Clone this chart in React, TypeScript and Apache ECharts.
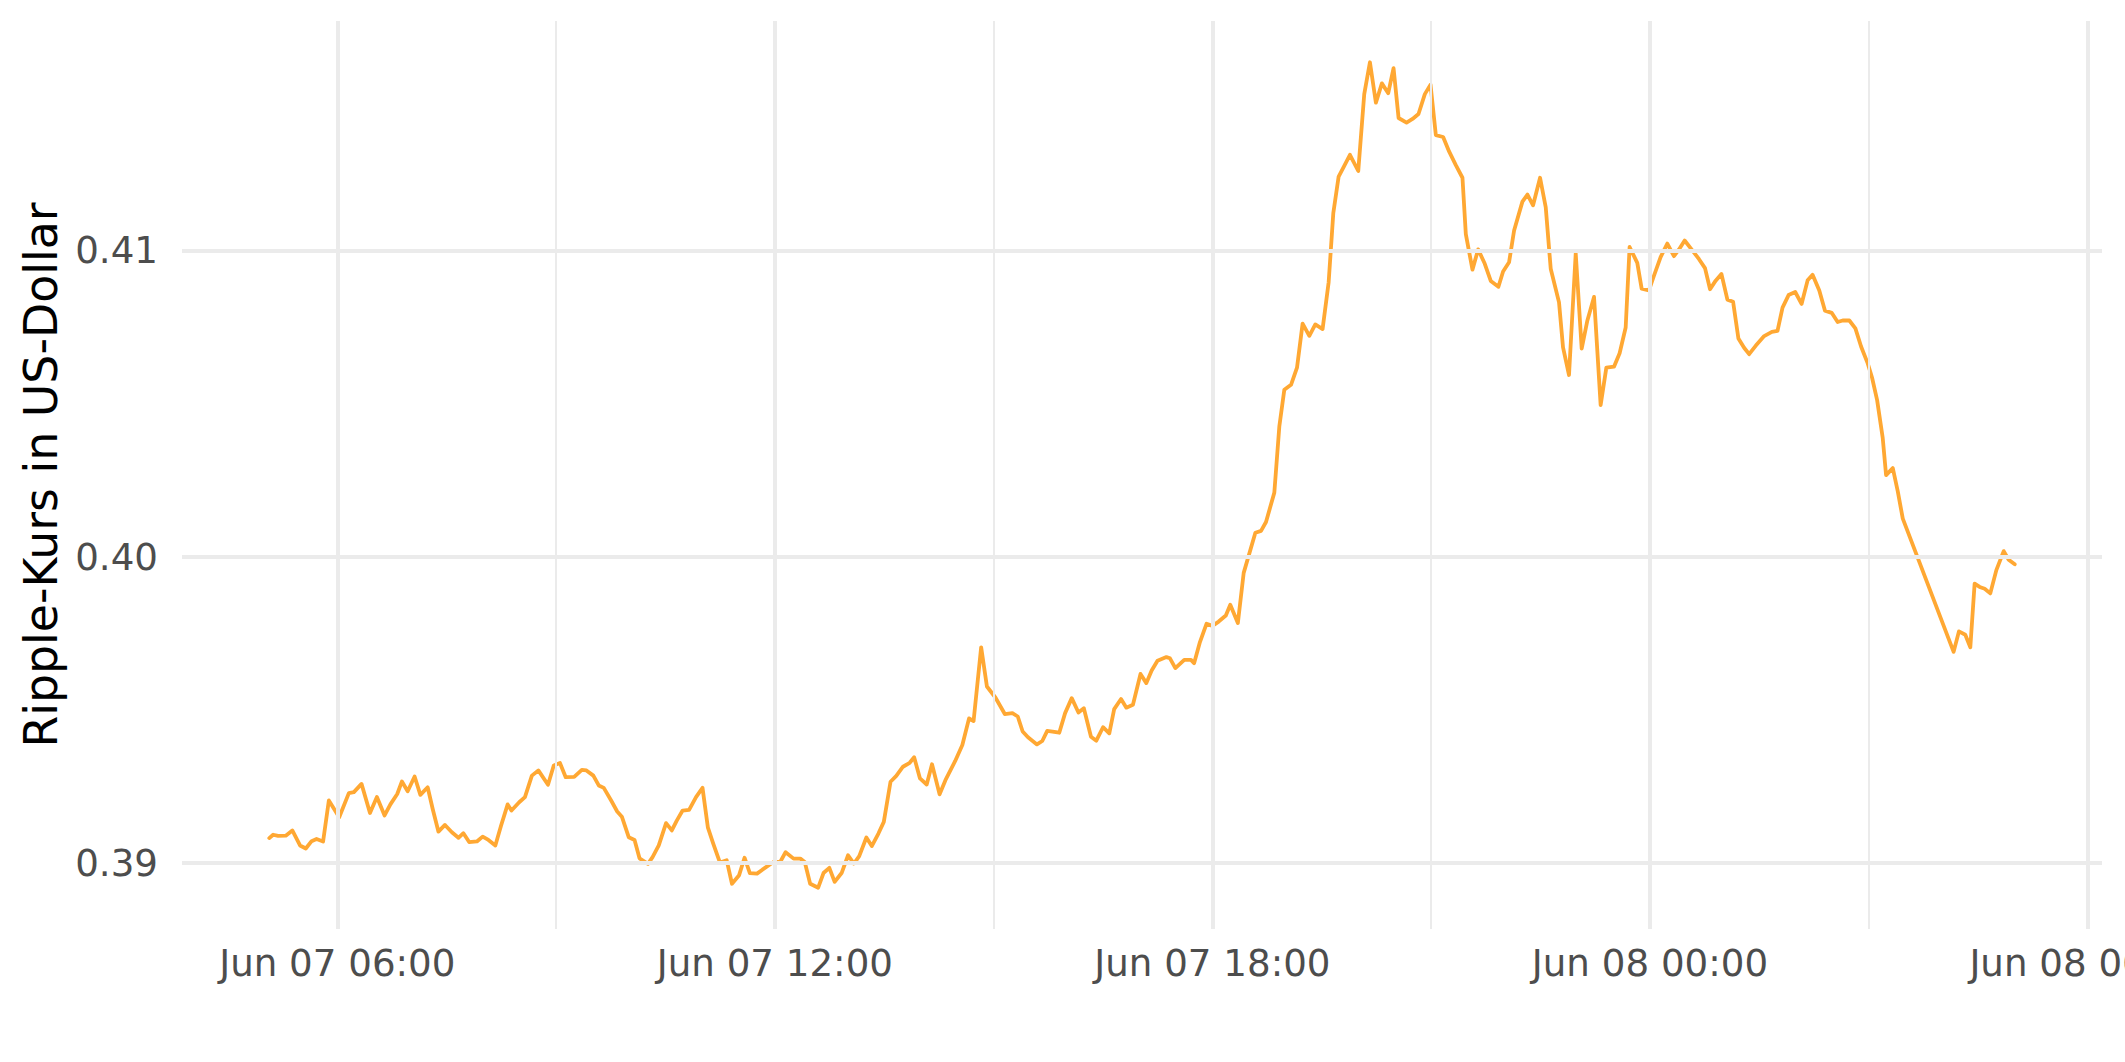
import React, { useEffect, useRef } from "react";
import * as echarts from "echarts";

// Hours since Jun 07 00:00
const HOURS: number[] = [
  5.067, 5.12, 5.188, 5.293, 5.383, 5.489, 5.568, 5.647, 5.715, 5.805, 5.884, 6.026, 6.158, 6.227, 6.332, 6.448,
  6.543, 6.648, 6.728, 6.822, 6.886, 6.965, 7.06, 7.139, 7.239, 7.308, 7.387, 7.476, 7.571, 7.661, 7.729, 7.808,
  7.914, 7.993, 8.072, 8.167, 8.246, 8.336, 8.388, 8.494, 8.573, 8.668, 8.757, 8.889, 8.968, 9.053, 9.132, 9.248,
  9.353, 9.416, 9.511, 9.585, 9.654, 9.759, 9.838, 9.902, 9.996, 10.076, 10.144, 10.26, 10.323, 10.408, 10.508,
  10.587, 10.655, 10.735, 10.824, 10.919, 11.008,
  11.082, 11.155, 11.247, 11.339, 11.412, 11.51, 11.584, 11.657, 11.755, 11.829, 11.982, 12.073, 12.147, 12.257,
  12.349, 12.41, 12.484, 12.594, 12.667, 12.747, 12.82, 12.918, 13.004, 13.084, 13.157, 13.255, 13.329, 13.42,
  13.494, 13.586, 13.665, 13.757, 13.849, 13.91, 13.99, 14.082, 14.155, 14.259, 14.339, 14.473, 14.571, 14.663,
  14.725, 14.829, 14.908, 15.024, 15.153, 15.257, 15.331, 15.398, 15.471, 15.594, 15.667, 15.735, 15.808, 15.9,
  15.98, 16.071, 16.163, 16.237, 16.335, 16.408, 16.5, 16.586, 16.653, 16.747, 16.82, 16.91, 17.014, 17.094,
  17.167, 17.247, 17.369, 17.418, 17.492, 17.614, 17.706, 17.749, 17.829, 17.92, 18.0, 18.086, 18.184, 18.245,
  18.349, 18.429,
  18.589, 18.667, 18.735, 18.849, 18.918, 18.986, 19.078, 19.16, 19.237, 19.329, 19.411, 19.511, 19.594, 19.658,
  19.731, 19.808, 19.886, 20.0, 20.082, 20.16, 20.242, 20.324, 20.411, 20.484, 20.553, 20.662, 20.744, 20.826,
  20.913, 20.991, 21.064, 21.164, 21.247, 21.338, 21.429, 21.475, 21.566, 21.644, 21.735, 21.817, 21.922, 21.986,
  22.068, 22.137, 22.251, 22.32, 22.397, 22.493, 22.571, 22.639, 22.753, 22.808, 22.89, 22.982, 23.064, 23.142,
  23.233, 23.324, 23.402, 23.507, 23.584, 23.667, 23.721, 23.826, 23.886,
  23.986, 24.055, 24.146, 24.238, 24.329, 24.398, 24.476, 24.581, 24.673, 24.755, 24.824, 24.901, 24.98, 25.062,
  25.14, 25.213, 25.291, 25.36, 25.452, 25.566, 25.672, 25.749, 25.818, 25.901, 25.992, 26.079, 26.162, 26.23,
  26.322, 26.4, 26.492, 26.574, 26.643, 26.734, 26.817, 26.895, 26.986, 27.046, 27.115, 27.192, 27.238, 27.33,
  27.399, 27.467, 28.164, 28.237, 28.324, 28.393, 28.452, 28.521, 28.59, 28.667, 28.75, 28.851, 28.919, 29.002,
];

// Ripple price in US dollars
const PRICES: number[] = [
  0.39081, 0.39092, 0.39088, 0.39089, 0.39106, 0.39057, 0.39047, 0.39071, 0.39078, 0.3907, 0.39204, 0.39149, 0.39228,
  0.39231, 0.39258, 0.39163, 0.39215, 0.39155, 0.39191, 0.39225, 0.39266, 0.39234, 0.39282, 0.39222, 0.39247, 0.39176,
  0.39102, 0.39124, 0.391, 0.39082, 0.39097, 0.39068, 0.3907, 0.39086, 0.39075, 0.39057, 0.39122, 0.39191, 0.39171,
  0.39198, 0.39215, 0.39285, 0.39302, 0.39255, 0.39318, 0.39326, 0.3928, 0.39281, 0.39304, 0.39302, 0.39285, 0.39253,
  0.39245, 0.39202, 0.39168, 0.39151, 0.39084, 0.39075, 0.39015, 0.38997, 0.39019, 0.39057, 0.3913, 0.39106, 0.39138,
  0.39171, 0.39173, 0.39215, 0.39245,
  0.39115, 0.39063, 0.39001, 0.39009, 0.38932, 0.3896, 0.39017, 0.38967, 0.38965, 0.38978, 0.39003, 0.39003, 0.39035,
  0.39014, 0.39014, 0.39003, 0.38932, 0.38919, 0.38967, 0.38984, 0.38938, 0.38968, 0.39025, 0.38998, 0.39022, 0.39083,
  0.39055, 0.39096, 0.39134, 0.39265, 0.39284, 0.39314, 0.39327, 0.39345, 0.39276, 0.39256, 0.39322, 0.39224, 0.3927,
  0.39333, 0.39385, 0.39472, 0.39463, 0.39704, 0.39576, 0.3954, 0.39486, 0.39489, 0.39478, 0.39429, 0.3941, 0.39387,
  0.39398, 0.39431, 0.39429, 0.39425, 0.39489, 0.39538, 0.39491, 0.39505, 0.39412, 0.39399, 0.39443, 0.39423, 0.39502,
  0.39535, 0.39507, 0.39516, 0.39617, 0.39587, 0.39628, 0.3966, 0.39672, 0.39668, 0.39636, 0.39663, 0.39663, 0.39652,
  0.39721, 0.39781, 0.39774, 0.39788, 0.39808, 0.39843, 0.39783, 0.39947,
  0.40078, 0.40084, 0.40113, 0.40209, 0.40426, 0.40545, 0.40561, 0.40617, 0.40761, 0.40721, 0.40758, 0.40743, 0.40896,
  0.41122, 0.41241, 0.41276, 0.41312, 0.41259, 0.4151, 0.41614, 0.41482, 0.41545, 0.41513, 0.41595, 0.41432, 0.41417,
  0.41429, 0.41445, 0.4151, 0.41541, 0.41376, 0.4137, 0.41322, 0.41278, 0.41237, 0.41053, 0.40937, 0.41003, 0.40956,
  0.409, 0.40881, 0.40931, 0.40961, 0.41065, 0.41159, 0.41182, 0.41147, 0.41237, 0.4114, 0.4094, 0.4083, 0.40683,
  0.40593, 0.4099, 0.40679, 0.40771, 0.40848, 0.40495, 0.40617, 0.4062, 0.40664, 0.40748, 0.41011, 0.40959, 0.40875,
  0.40869, 0.40917, 0.40978, 0.41022, 0.40981, 0.41003, 0.41032, 0.41, 0.40971, 0.40942, 0.40873, 0.40901, 0.40923,
  0.40839, 0.40832, 0.40712, 0.40682, 0.40661, 0.40689, 0.4072, 0.40734, 0.40737, 0.40813, 0.40854, 0.40864, 0.40825,
  0.40902, 0.4092, 0.40869, 0.40803, 0.40796, 0.40766, 0.40771, 0.40771, 0.40745, 0.40686, 0.40631, 0.40584, 0.40511,
  0.40387, 0.40266, 0.40289, 0.40212, 0.40124, 0.39689, 0.39756, 0.39745, 0.39704, 0.39912, 0.39901, 0.39895, 0.3988,
  0.39956, 0.40018, 0.3999, 0.39975,
];

// Axis breaks (hours since Jun 07 00:00 and price levels)
const X_MAJOR: number[] = [6, 12, 18, 24, 30];
const X_MINOR: number[] = [9, 15, 21, 27];
const Y_MAJOR: number[] = [0.39, 0.4, 0.41];
const Y_MINOR: number[] = [0.395, 0.405, 0.415];
const Y_TITLE = "Ripple-Kurs in US-Dollar";

const pad = (n: number) => (n < 10 ? "0" + n : String(n));
const fmtHour = (v: number) => {
  const day = 7 + Math.floor(v / 24);
  const hh = Math.round(v - Math.floor(v / 24) * 24);
  return `Jun ${pad(day)} ${pad(hh)}:00`;
};

export default function App() {
  const ref = useRef<HTMLDivElement>(null);

  useEffect(() => {
    document.body.style.margin = "0";
    document.body.style.overflow = "hidden";
    if (!ref.current) return;
    const chart = echarts.init(ref.current, undefined, { renderer: "svg" });

    const xLo = Math.min(...HOURS);
    const xHi = Math.max(...HOURS);
    const yLo = Math.min(...PRICES);
    const yHi = Math.max(...PRICES);
    const xPad = (xHi - xLo) * 0.05;
    const yPad = (yHi - yLo) * 0.05;

    const data = HOURS.map((h, i) => [h, PRICES[i]]);
    const grid = "#EBEBEB";
    const font = "DejaVu Sans";
    const lineColor = "#FFA833";

    const gridLines = [
      ...X_MAJOR.map((v) => ({ xAxis: v, lineStyle: { width: 4, color: grid, type: "solid" } })),
      ...X_MINOR.map((v) => ({ xAxis: v, lineStyle: { width: 2, color: grid, type: "solid" } })),
      ...Y_MAJOR.map((v) => ({ yAxis: v, lineStyle: { width: 4, color: grid, type: "solid" } })),
      ...Y_MINOR.map((v) => ({ yAxis: v, lineStyle: { width: 2, color: grid, type: "solid" } })),
    ];

    chart.setOption({
      animation: false,
      backgroundColor: "#FFFFFF",
      grid: { left: 182, right: 23, top: 21, bottom: 133, containLabel: false, outerBoundsMode: "none" },
      xAxis: {
        type: "value",
        min: xLo - xPad,
        max: xHi + xPad,
        axisLine: { show: false },
        axisTick: { show: false },
        splitLine: { show: false },
        axisLabel: {
          customValues: X_MAJOR,
          formatter: (v: number) => fmtHour(v),
          color: "#4D4D4D",
          fontSize: 37.2,
          fontFamily: font,
          margin: 15,
          hideOverlap: false,
        },
      },
      yAxis: {
        type: "value",
        min: yLo - yPad,
        max: yHi + yPad,
        scale: true,
        axisLine: { show: false },
        axisTick: { show: false },
        splitLine: { show: false },
        axisLabel: {
          customValues: Y_MAJOR,
          formatter: (v: number) => v.toFixed(2),
          color: "#4D4D4D",
          fontSize: 37.2,
          fontFamily: font,
          margin: 24,
        },
        name: Y_TITLE,
        nameLocation: "middle",
        nameRotate: 90,
        nameGap: 118,
        nameTextStyle: { color: "#000000", fontSize: 45.8, fontFamily: font },
      },
      series: [
        {
          type: "line",
          data: data,
          silent: true,
          showSymbol: false,
          lineStyle: { opacity: 0, width: 0 },
          markLine: {
            silent: true,
            symbol: ["none", "none"],
            label: { show: false },
            emphasis: { disabled: true },
            data: gridLines,
          },
          z: 1,
        },
        {
          type: "line",
          data: data,
          showSymbol: false,
          symbol: "none",
          lineStyle: { color: lineColor, width: 3.8, join: "round", cap: "round" },
          itemStyle: { color: lineColor },
          z: 3,
        },
      ],
    });

    return () => chart.dispose();
  }, []);

  return <div ref={ref} style={{ width: 2125, height: 1062 }} />;
}
